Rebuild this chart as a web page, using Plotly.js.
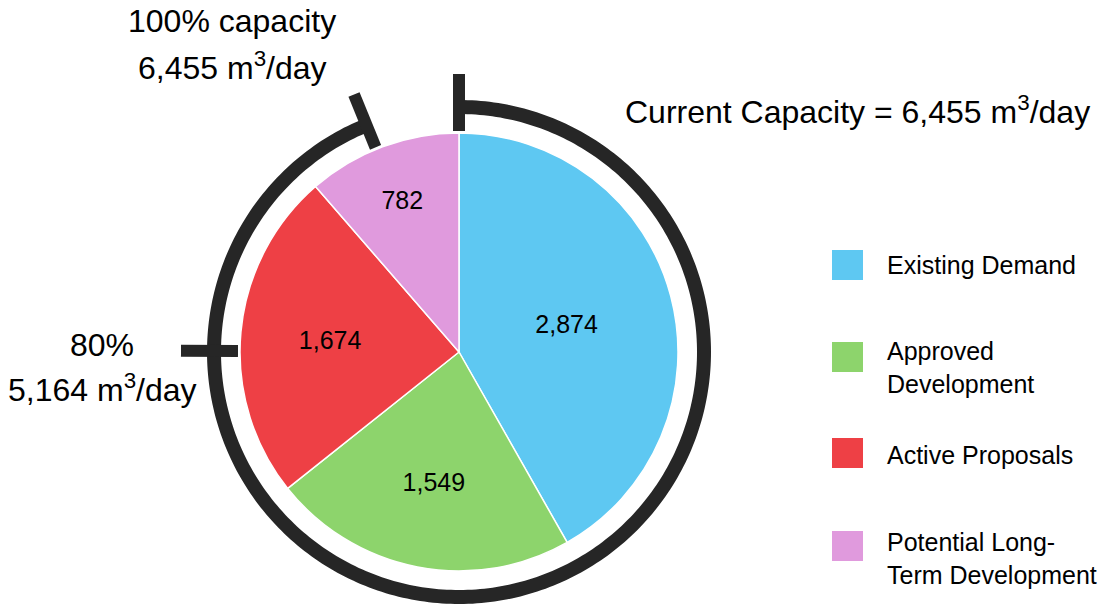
<!DOCTYPE html>
<html>
<head>
<meta charset="utf-8">
<script src="https://cdn.plot.ly/plotly-3.0.1.min.js"></script>
<style>html,body{margin:0;padding:0;background:#fff;}#chart{width:1106px;height:611px;}</style>
</head>
<body>
<div id="chart"></div>
<script>
// ---- data ----
const categories = ["Existing Demand", "Approved Development", "Active Proposals", "Potential Long-Term Development"];
const legendLabels = ["Existing Demand", "Approved<br>Development", "Active Proposals", "Potential Long-<br>Term Development"];
const demand = [2874, 1549, 1674, 782];
const capacity = 6455;      // m3/day, 100%
const capacity80 = 5164;    // m3/day, 80%
const colors = ["#5EC8F2", "#8DD46C", "#EE4045", "#E09ADD"];

// ---- layout geometry (pixels) ----
const W = 1106, H = 611;
const cx = 459, cy = 352, rPie = 219;
const rRing = 245, ringW = 14, tickIn = 221, tickOut = 278;
const FONT = "Liberation Sans, Arial, sans-serif";
const ringColor = "#262626";

const total = demand.reduce((a, b) => a + b, 0);
const angCap = capacity / total * 360;
const ang80 = capacity80 / total * 360;

function pt(r, deg) {
  const t = deg * Math.PI / 180;
  return [cx + r * Math.sin(t), cy - r * Math.cos(t)];
}
function arcPath(r, a0, a1) {
  let d = "";
  const n = Math.ceil(Math.abs(a1 - a0));
  for (let i = 0; i <= n; i++) {
    const a = a0 + (a1 - a0) * i / n;
    const p = pt(r, a);
    d += (i === 0 ? "M" : "L") + p[0].toFixed(2) + "," + p[1].toFixed(2);
  }
  return d;
}
function tick(deg) {
  const p0 = pt(tickIn, deg), p1 = pt(tickOut, deg);
  return {type: "line", xref: "x", yref: "y", x0: p0[0], y0: p0[1], x1: p1[0], y1: p1[1],
          line: {color: ringColor, width: 12}, layer: "above"};
}
const fmt = v => v.toLocaleString("en-US");

const shapes = [
  {type: "path", xref: "x", yref: "y", path: arcPath(rRing, 0, angCap), line: {color: ringColor, width: ringW}},
  tick(0), tick(angCap), tick(ang80)
];

// manual legend
const legY = [265, 357, 453, 546];
const legTextY = [265, 367, 455, 558];
const annotations = [];
categories.forEach((c, i) => {
  shapes.push({type: "rect", xref: "x", yref: "y", x0: 832, x1: 863, y0: legY[i] - 15, y1: legY[i] + 15,
               fillcolor: colors[i], line: {width: 0}});
  annotations.push({xref: "x", yref: "y", x: 885, y: legTextY[i], text: legendLabels[i], showarrow: false,
                    xanchor: "left", yanchor: "middle", align: "left", font: {family: FONT, size: 25, color: "#000"}});
});

annotations.push(
  {xref: "x", yref: "y", x: 857, y: 110, text: "Current Capacity = " + fmt(capacity) + " m<sup>3</sup>/day",
   showarrow: false, xanchor: "center", yanchor: "middle", font: {family: FONT, size: 32, color: "#000"}},
  {xref: "x", yref: "y", x: 232, y: 21, text: "100% capacity",
   showarrow: false, xanchor: "center", yanchor: "middle", font: {family: FONT, size: 32, color: "#000"}},
  {xref: "x", yref: "y", x: 232, y: 66, text: fmt(capacity) + " m<sup>3</sup>/day",
   showarrow: false, xanchor: "center", yanchor: "middle", font: {family: FONT, size: 32, color: "#000"}},
  {xref: "x", yref: "y", x: 102, y: 345, text: Math.round(capacity80 / capacity * 100) + "%",
   showarrow: false, xanchor: "center", yanchor: "middle", font: {family: FONT, size: 32, color: "#000"}},
  {xref: "x", yref: "y", x: 102, y: 388, text: fmt(capacity80) + " m<sup>3</sup>/day",
   showarrow: false, xanchor: "center", yanchor: "middle", font: {family: FONT, size: 32, color: "#000"}}
);

const trace = {
  type: "pie",
  labels: categories,
  values: demand,
  sort: false,
  direction: "clockwise",
  rotation: 0,
  marker: {colors: colors, line: {color: "#ffffff", width: 1.5}},
  texttemplate: "%{value:,}",
  textposition: "inside",
  insidetextorientation: "horizontal",
  textfont: {family: FONT, size: 25, color: "#000"},
  showlegend: false,
  hoverinfo: "label+value",
  domain: {x: [(cx - rPie) / W, (cx + rPie) / W], y: [1 - (cy + rPie) / H, 1 - (cy - rPie) / H]}
};

const layout = {
  width: W, height: H,
  margin: {l: 0, r: 0, t: 0, b: 0, pad: 0},
  paper_bgcolor: "#fff", plot_bgcolor: "rgba(0,0,0,0)",
  xaxis: {range: [0, W], visible: false, fixedrange: true},
  yaxis: {range: [H, 0], visible: false, fixedrange: true},
  showlegend: false,
  shapes: shapes,
  annotations: annotations,
  font: {family: FONT}
};

Plotly.newPlot("chart", [trace], layout, {displayModeBar: false, staticPlot: true});
</script>
</body>
</html>
